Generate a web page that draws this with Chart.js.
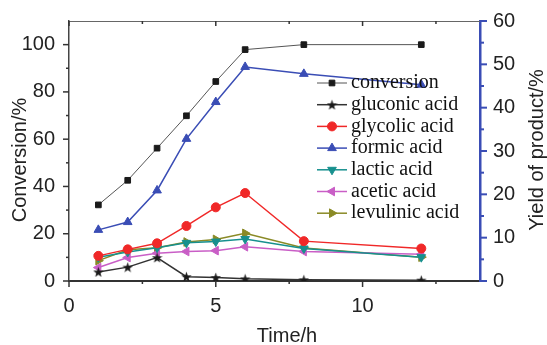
<!DOCTYPE html>
<html>
<head>
<meta charset="utf-8">
<script src="https://cdn.jsdelivr.net/npm/chart.js@4.4.1/dist/chart.umd.min.js"></script>
<style>
  html, body { margin: 0; padding: 0; background: #fff; }
  #wrap { width: 547px; height: 345px; }
</style>
</head>
<body>
<div id="wrap"><canvas id="chart" width="547" height="345"></canvas></div>
<script>
// reaction time (h)
const times = [1, 2, 3, 4, 5, 6, 8, 12];
// left axis: conversion (%)
const conversion = [32.2, 42.6, 56.2, 69.9, 84.4, 97.9, 100, 100];
// right axis: yield of product (%)
const gluconic = [2.1, 3.2, 5.4, 1.0, 0.8, 0.5, 0.3, 0.2];
const glycolic = [5.8, 7.3, 8.7, 12.7, 17.0, 20.3, 9.2, 7.5];
const formic = [11.8, 13.6, 20.9, 32.8, 41.3, 49.4, 47.8, 45.3];
const lactic = [5.5, 6.7, 7.7, 8.8, 9.1, 9.7, 7.5, 5.5];
const acetic = [3.1, 5.4, 6.4, 6.8, 7.0, 7.9, 6.8, 6.2];
const levulinic = [4.7, 7.2, 7.7, 9.0, 9.6, 11.0, 7.6, 5.5];

// axis ticks
const xTicks = [0, 5, 10];
const xMinor = [2.5, 7.5, 12.5];
const leftTicks = [0, 20, 40, 60, 80, 100];
const leftMinor = [10, 30, 50, 70, 90];
const rightTicks = [0, 10, 20, 30, 40, 50, 60];
const rightMinor = [5, 15, 25, 35, 45, 55];

const BLUE = '#3a4db5';
const SANS = '"Liberation Sans", Arial, sans-serif';
const SERIF = '"Liberation Serif", "Times New Roman", serif';

function starImage(size, color) {
    const c = document.createElement('canvas');
    c.width = c.height = size;
    const g = c.getContext('2d');
    g.fillStyle = color;
    g.beginPath();
    for (let i = 0; i < 10; i++) {
        const r = i % 2 ? size * 0.2 : size / 2;
        const a = -Math.PI / 2 + i * Math.PI / 5;
        g.lineTo(size / 2 + r * Math.cos(a), size / 2 + r * Math.sin(a) + 0.5);
    }
    g.closePath();
    g.fill();
    return c;
}

function series(label, values, color, axis, style, extra) {
    return Object.assign({
        label: label,
        data: times.map((t, i) => ({ x: t, y: values[i] })),
        yAxisID: axis,
        borderColor: color,
        backgroundColor: color,
        pointBackgroundColor: color,
        pointBorderColor: color,
        borderWidth: 1.5,
        pointStyle: style,
        pointRadius: 4.5,
        pointBorderWidth: 1,
        tension: 0
    }, extra || {});
}

const datasets = [
    series('conversion', conversion, '#1a1a1a', 'y', 'rect', { borderColor: '#555', borderWidth: 1, pointRadius: 4 }),
    series('gluconic acid', gluconic, '#1a1a1a', 'y1', starImage(11, '#1a1a1a'), { borderColor: '#333' }),
    series('glycolic acid', glycolic, '#f02828', 'y1', 'circle', { pointRadius: 4.5 }),
    series('formic acid', formic, BLUE, 'y1', 'triangle', { pointRadius: 5 }),
    series('lactic acid', lactic, '#17908e', 'y1', 'triangle', { pointRadius: 5, pointRotation: 180 }),
    series('acetic acid', acetic, '#c95ec6', 'y1', 'triangle', { pointRadius: 5, pointRotation: -90 }),
    series('levulinic acid', levulinic, '#8a8a26', 'y1', 'triangle', { pointRadius: 5, pointRotation: 90 })
];

function setTicks(list) {
    return scale => { scale.ticks = list.map(v => ({ value: v })); };
}

const decor = {
    id: 'decor',
    afterDatasetsDraw(chart) {
        const ctx = chart.ctx;
        const a = chart.chartArea;
        const sx = chart.scales.x, sl = chart.scales.y, sr = chart.scales.y1;
        ctx.save();

        // top frame line
        ctx.strokeStyle = '#666';
        ctx.lineWidth = 1;
        ctx.beginPath();
        ctx.moveTo(a.left, a.top + 0.5);
        ctx.lineTo(a.right, a.top + 0.5);
        ctx.stroke();

        function tick(x1, y1, x2, y2) {
            ctx.beginPath();
            ctx.moveTo(x1, y1);
            ctx.lineTo(x2, y2);
            ctx.stroke();
        }

        // x ticks: bottom outward, top inward
        ctx.strokeStyle = '#333';
        ctx.lineWidth = 1.5;
        xTicks.forEach(v => {
            const p = sx.getPixelForValue(v);
            tick(p, a.bottom, p, a.bottom + 6);
            tick(p, a.top, p, a.top + 5);
        });
        xMinor.forEach(v => {
            const p = sx.getPixelForValue(v);
            tick(p, a.bottom, p, a.bottom + 3);
            tick(p, a.top, p, a.top + 3);
        });

        // left ticks
        leftTicks.forEach(v => { const p = sl.getPixelForValue(v); tick(a.left, p, a.left - 6, p); });
        leftMinor.forEach(v => { const p = sl.getPixelForValue(v); tick(a.left, p, a.left - 3, p); });

        // right ticks
        ctx.strokeStyle = BLUE;
        ctx.lineWidth = 2;
        rightTicks.forEach(v => { const p = sr.getPixelForValue(v); tick(a.right, p, a.right + 7, p); });
        rightMinor.forEach(v => { const p = sr.getPixelForValue(v); tick(a.right, p, a.right + 4, p); });

        // axis titles
        ctx.fillStyle = '#222';
        ctx.font = '20px ' + SANS;
        ctx.textAlign = 'center';
        ctx.textBaseline = 'middle';
        ctx.fillText('Time/h', 287, 336);
        ctx.save();
        ctx.translate(20, 160);
        ctx.rotate(-Math.PI / 2);
        ctx.fillText('Conversion/%', 0, 0);
        ctx.restore();
        ctx.save();
        ctx.translate(537, 150);
        ctx.rotate(-Math.PI / 2);
        ctx.fillText('Yield of product/%', 0, 0);
        ctx.restore();

        // legend inside the plot
        const x0 = 317, x1 = 347, rowH = 21.7;
        let y = 83;
        ctx.font = '20px ' + SERIF;
        ctx.textAlign = 'left';
        chart.data.datasets.forEach(ds => {
            ctx.strokeStyle = ds.borderColor;
            ctx.lineWidth = ds.borderWidth;
            tick(x0, y, x1, y);
            ctx.fillStyle = ds.pointBackgroundColor;
            ctx.strokeStyle = ds.pointBorderColor;
            ctx.lineWidth = 1;
            Chart.helpers.drawPoint(ctx, {
                pointStyle: ds.pointStyle,
                rotation: ds.pointRotation || 0,
                radius: ds.pointRadius,
                borderWidth: 1
            }, (x0 + x1) / 2, y);
            ctx.fillStyle = '#111';
            ctx.fillText(ds.label, 351, y);
            y += rowH;
        });
        ctx.restore();
    }
};

new Chart(document.getElementById('chart'), {
    type: 'line',
    data: { datasets: datasets },
    options: {
        responsive: false,
        animation: false,
        layout: { padding: { top: 21, left: 0, right: 0, bottom: 0 } },
        plugins: { legend: { display: false }, tooltip: { enabled: false } },
        scales: {
            x: {
                type: 'linear',
                min: 0,
                max: 14,
                afterBuildTicks: setTicks(xTicks),
                afterFit: s => { s.height = 64; },
                grid: { display: false },
                border: { display: true, color: '#333', width: 2 },
                ticks: { font: { family: SANS, size: 20 }, color: '#222', padding: 5 }
            },
            y: {
                position: 'left',
                min: 0,
                max: 110,
                afterBuildTicks: setTicks(leftTicks),
                afterFit: s => { s.width = 69; },
                grid: { display: false },
                border: { display: true, color: '#444', width: 1.5 },
                ticks: { font: { family: SANS, size: 20 }, color: '#222', padding: 6 }
            },
            y1: {
                position: 'right',
                min: 0,
                max: 60,
                afterBuildTicks: setTicks(rightTicks),
                afterFit: s => { s.width = 67; },
                grid: { display: false },
                border: { display: true, color: BLUE, width: 2.5 },
                ticks: { font: { family: SANS, size: 20 }, color: '#222', padding: 5 }
            }
        }
    },
    plugins: [decor]
});
</script>
</body>
</html>
